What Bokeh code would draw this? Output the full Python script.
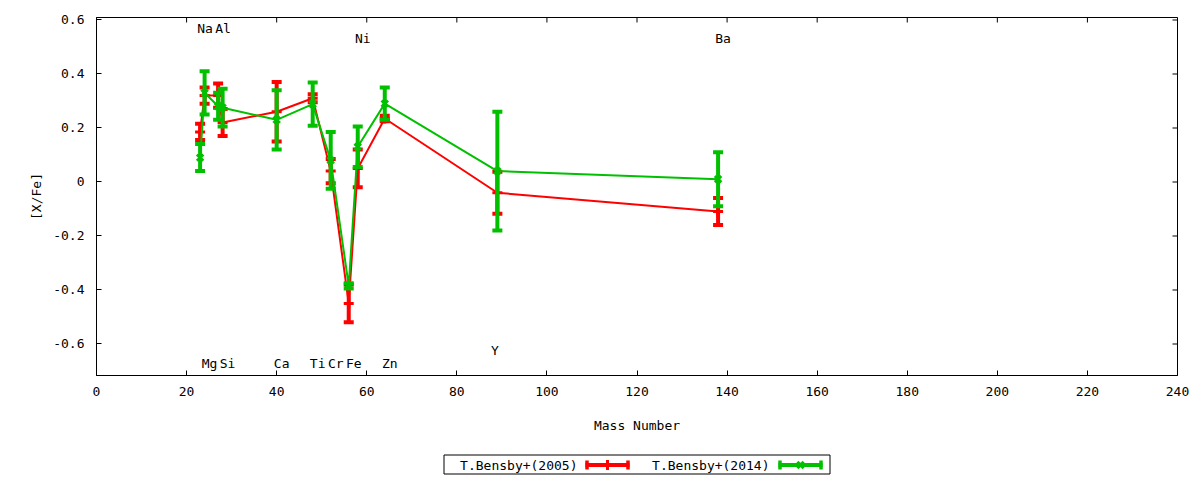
import numpy as np
from bokeh.plotting import figure
from bokeh.layouts import column
from bokeh.models import Range1d, FixedTicker, ColumnDataSource, CustomJSTickFormatter
from bokeh.embed import file_html
from bokeh.resources import INLINE
from bokeh.core.properties import value

# ---------------- data ----------------
elements = ["Na", "Mg", "Al", "Si", "Ca", "Ti", "Cr", "Fe", "Ni", "Zn", "Y", "Ba"]
mass = [23, 24, 27, 28, 40, 48, 52, 56, 58, 64, 89, 138]

series_names = ["T.Bensby+(2005)", "T.Bensby+(2014)"]
xfe_2005 = [0.185, 0.32, 0.32, 0.22, 0.26, 0.31, 0.04, -0.45, 0.05, 0.235, -0.04, -0.11]
err_2005 = [0.03, 0.03, 0.045, 0.05, 0.11, 0.015, 0.045, 0.07, 0.07, 0.01, 0.078, 0.05]
xfe_2014 = [0.09, 0.33, 0.28, 0.275, 0.23, 0.288, 0.08, -0.385, 0.13, 0.29, 0.04, 0.01]
err_2014 = [0.05, 0.08, 0.05, 0.07, 0.11, 0.08, 0.105, 0.01, 0.075, 0.06, 0.22, 0.10]

x_ticks = [0, 20, 40, 60, 80, 100, 120, 140, 160, 180, 200, 220, 240]
y_ticks = [-0.6, -0.4, -0.2, 0, 0.2, 0.4, 0.6]

# element label placement (annotation rows)
label_y = [0.57, -0.673, 0.57, -0.673, -0.673, -0.673, -0.673, -0.673, 0.533, -0.673, -0.625, 0.533]
label_dx = [5, 5, 5, 5, 5, 5, 5, 5, 5, 5, -2.5, 5]

FONT = "DejaVu Sans Mono"
FS = "13px"
RED = "#ff0000"
GREEN = "#00c000"

W = 1192
BL, BR = 96, 15
X0, X1 = 0, 240
Y0, Y1 = -0.717, 0.609

p = figure(width=W, height=448, x_range=Range1d(X0, X1), y_range=Range1d(Y0, Y1),
           output_backend="svg", toolbar_location=None,
           min_border_left=BL, min_border_right=BR, min_border_top=17, min_border_bottom=73)
p.grid.visible = False
p.outline_line_color = "black"
p.outline_line_width = 1
p.outline_line_alpha = 1.0
p.background_fill_color = "white"
p.border_fill_color = "white"


def style_axis(ax):
    ax.major_tick_in = 5
    ax.major_tick_out = 0
    ax.minor_tick_in = 0
    ax.minor_tick_out = 0
    ax.axis_line_color = "black"
    ax.major_tick_line_color = "black"
    ax.major_label_text_font = FONT
    ax.major_label_text_font_size = FS
    ax.major_label_text_color = "black"
    ax.axis_label_text_font = FONT
    ax.axis_label_text_font_size = FS
    ax.axis_label_text_font_style = "normal"
    ax.axis_label_text_color = "black"


xa = p.xaxis[0]
ya = p.yaxis[0]
xa.ticker = FixedTicker(ticks=x_ticks)
ya.ticker = FixedTicker(ticks=y_ticks)
ya.formatter = CustomJSTickFormatter(code="return tick.toFixed(1).replace(/\\.0$/, '');")
style_axis(xa)
style_axis(ya)
xa.axis_label = "Mass Number"
ya.axis_label = "[X/Fe]"
xa.major_label_standoff = 11
xa.axis_label_standoff = 19
ya.major_label_standoff = 12
ya.axis_label_standoff = 6

# mirrored inward ticks on the top and right edges (half of each mark is clipped by the frame)
p.rect(x=x_ticks, y=[Y1] * len(x_ticks), width=1, height=10, width_units="screen",
       height_units="screen", fill_color="black", line_color=None)
p.rect(x=[X1] * len(y_ticks), y=y_ticks, width=10, height=1, width_units="screen",
       height_units="screen", fill_color="black", line_color=None)


def draw_series(vals, errs, color, marker, msize):
    v = np.array(vals, dtype=float)
    e = np.array(errs, dtype=float)
    src = ColumnDataSource(dict(x=mass, y=v, lo=v - e, hi=v + e))
    p.line("x", "y", source=src, line_color=color, line_width=2)
    p.segment(x0="x", y0="lo", x1="x", y1="hi", source=src, line_color=color, line_width=4)
    for key in ("lo", "hi"):
        p.rect(x="x", y=key, width=10, height=4, width_units="screen", height_units="screen",
               source=src, fill_color=color, line_color=None)
    p.scatter("x", "y", source=src, marker=marker, size=msize, line_color=color, line_width=3)


draw_series(xfe_2005, err_2005, RED, "cross", 10)
draw_series(xfe_2014, err_2014, GREEN, "x", 9)

lab_src = ColumnDataSource(dict(x=mass, y=label_y, t=elements, dx=label_dx))
p.text(x="x", y="y", text="t", x_offset="dx", source=lab_src, text_align="center",
       text_baseline="middle", text_font=value(FONT), text_font_size=value(FS), text_color="black")

# ---------------- legend strip (coordinates in page pixels) ----------------
LH = 28
lg = figure(width=W, height=LH, x_range=Range1d(BL, W - BR), y_range=Range1d(0, LH),
            output_backend="svg", toolbar_location=None, x_axis_location=None, y_axis_location=None,
            min_border_left=BL, min_border_right=BR, min_border_top=0, min_border_bottom=0)
lg.grid.visible = False
lg.outline_line_color = None
lg.background_fill_color = "white"
lg.border_fill_color = "white"

yc = 11.5
lg.quad(left=443.5, right=829.5, bottom=2.5, top=21.5, fill_color=None, line_color="black", line_width=1)
lg.text(x=[577, 769], y=[yc, yc], text=series_names, text_align="right", text_baseline="middle",
        text_font=value(FONT), text_font_size=value(FS), text_color="black")
for (x0, x1, col, mk, ms) in ((585, 629, RED, "cross", 10), (778, 822, GREEN, "x", 9)):
    lg.segment(x0=x0, y0=yc, x1=x1, y1=yc, line_color=col, line_width=4)
    lg.rect(x=[x0 + 1.5, x1 - 1.5], y=[yc, yc], width=3.5, height=9, fill_color=col, line_color=None)
    lg.scatter(x=[(x0 + x1) / 2], y=[yc], marker=mk, size=ms, line_color=col, line_width=3)

layout = column(p, lg, spacing=0)
open("out.html", "w").write(file_html(layout, INLINE))
